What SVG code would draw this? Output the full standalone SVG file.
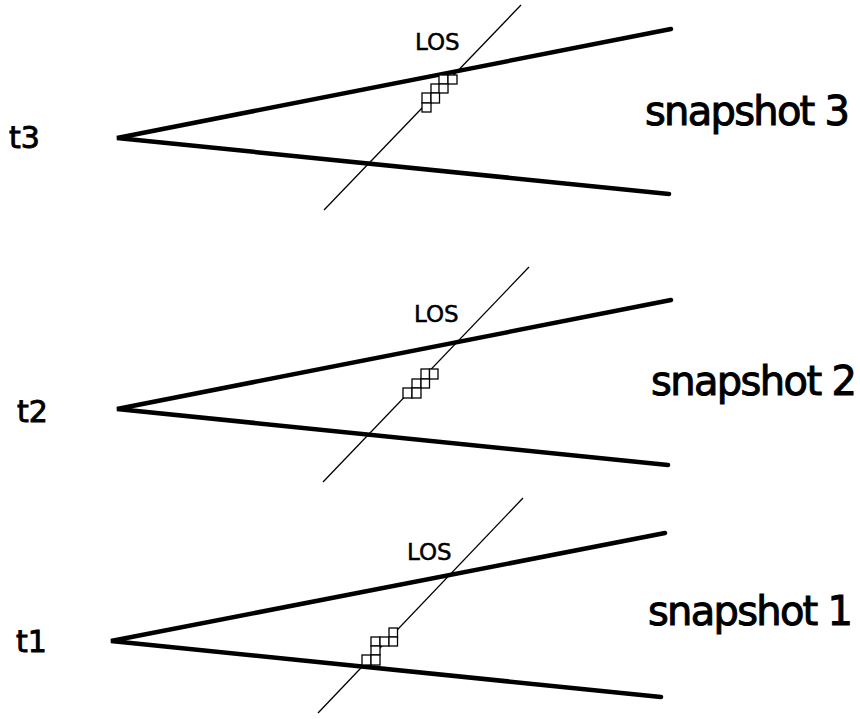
<svg xmlns="http://www.w3.org/2000/svg" width="860" height="719" viewBox="0 0 860 719">
<style>
.thick{stroke:#000;stroke-width:4.5;fill:none;stroke-linecap:round}
.los{stroke:#000;stroke-width:1.3;fill:none}
.sq{stroke:#000;stroke-width:1.3;fill:#fff}
.t{font-family:"DejaVu Sans",sans-serif;font-size:30px;fill:#000;stroke:#000;stroke-width:0.9}
.snap{font-family:"DejaVu Sans",sans-serif;font-size:40px;fill:#000;stroke:#000;stroke-width:1}
.lbl{font-family:"DejaVu Sans",sans-serif;font-size:23px;fill:#000;stroke:#000;stroke-width:0.5}
</style>
<rect width="860" height="719" fill="#fff"/>
<g id="connectors">
<line class="los" x1="324" y1="210" x2="521" y2="5"/>
<line class="los" x1="323" y1="482" x2="529" y2="267"/>
<line class="los" x1="318" y1="713" x2="523" y2="498"/>
<polyline class="thick" points="671,29 117,138 669,194"/>
<polyline class="thick" points="671,300 117,409 668,465"/>
<polyline class="thick" points="665,533 111,641 661,697"/>
</g>
<g id="snapshot3">
<rect class="sq" x="439" y="75" width="9" height="9"/>
<rect class="sq" x="448" y="75" width="9" height="9"/>
<rect class="sq" x="431" y="84" width="8.5" height="9"/>
<rect class="sq" x="439" y="84" width="9" height="9"/>
<rect class="sq" x="422" y="93" width="9" height="10"/>
<rect class="sq" x="431" y="93" width="8.5" height="10"/>
<rect class="sq" x="422" y="103" width="9" height="9"/>
<text class="lbl" x="415" y="50">LOS</text>
<text class="t" x="9" y="148">t3</text>
<text class="snap" x="645" y="125" textLength="205">snapshot 3</text>
</g>
<g id="snapshot2">
<rect class="sq" x="421" y="369" width="8.5" height="10"/>
<rect class="sq" x="429.5" y="369" width="8.5" height="10"/>
<rect class="sq" x="412" y="379" width="9" height="9"/>
<rect class="sq" x="421" y="379" width="8.5" height="9"/>
<rect class="sq" x="403" y="388" width="9" height="10"/>
<rect class="sq" x="412" y="388" width="9" height="10"/>
<text class="lbl" x="414" y="322">LOS</text>
<text class="t" x="17" y="422">t2</text>
<text class="snap" x="651" y="395" textLength="206">snapshot 2</text>
</g>
<g id="snapshot1">
<rect class="sq" x="389" y="628" width="8.5" height="9"/>
<rect class="sq" x="371" y="637" width="9" height="9"/>
<rect class="sq" x="380" y="637" width="9" height="9"/>
<rect class="sq" x="389" y="637" width="8.5" height="9"/>
<rect class="sq" x="371" y="646" width="9" height="9"/>
<rect class="sq" x="362" y="655" width="9" height="10"/>
<rect class="sq" x="371" y="655" width="9" height="10"/>
<text class="lbl" x="407" y="560">LOS</text>
<text class="t" x="16" y="652">t1</text>
<text class="snap" x="648" y="625" textLength="205">snapshot 1</text>
</g>
</svg>
